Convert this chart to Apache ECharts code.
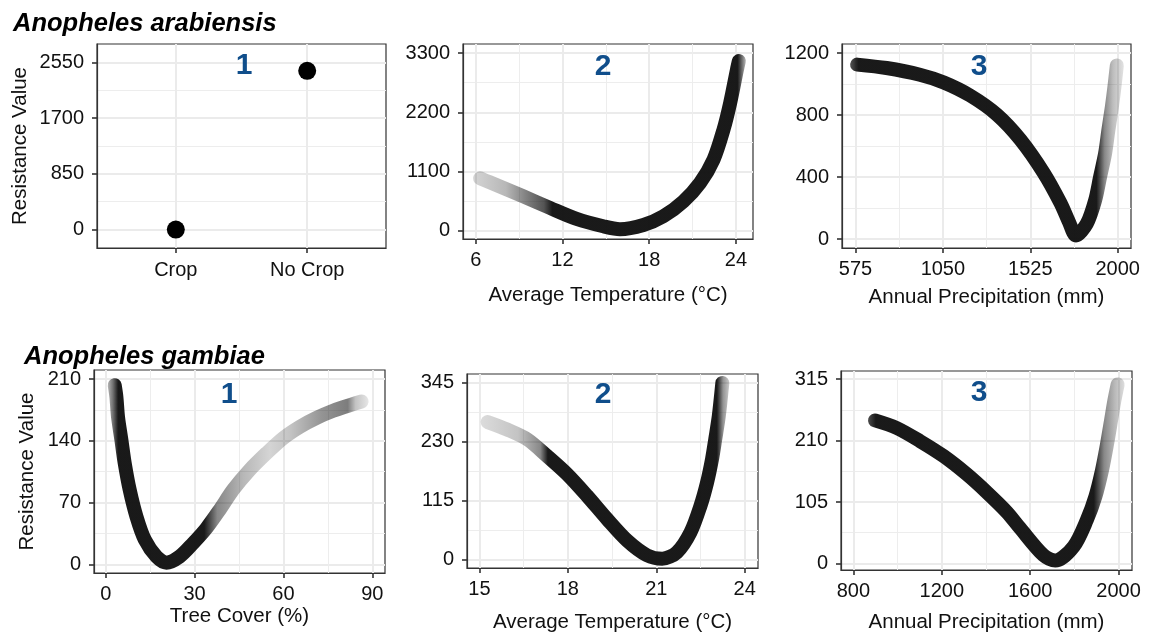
<!DOCTYPE html>
<html>
<head>
<meta charset="utf-8">
<script src="https://cdn.jsdelivr.net/npm/echarts@6/dist/echarts.min.js"></script>
<style>
html, body { margin: 0; padding: 0; background: #fff; }
#chart { width: 1157px; height: 634px; }
</style>
</head>
<body>
<div id="chart"></div>
<script>
// ---- values ----
// Anopheles arabiensis
const cropCats = ['Crop', 'No Crop'];
const cropRes = [0, 2422];

const araTemp = [6.3, 6.97, 9.28, 11.13, 12.98, 14.82, 15.98, 17.6, 18.98, 20.37, 21.52, 22.45, 23.14, 23.6, 24.07, 24.2];
const araTempRes = [975, 901, 642, 427, 222, 86, 32, 110, 271, 549, 890, 1322, 1879, 2374, 2992, 3150];

const araPrec = [584, 744, 925, 1055, 1199, 1344, 1471, 1598, 1689, 1735, 1773, 1832, 1877, 1904, 1931, 1949, 1968, 1982, 1995];
const araPrecRes = [1125, 1103, 1060, 1010, 925, 802, 641, 426, 232, 110, 23, 99, 249, 400, 550, 701, 852, 981, 1120];

// Anopheles gambiae
const gamTree = [3.04, 3.6, 4.16, 5.3, 6.4, 8.1, 10.4, 13.2, 17.1, 20.5, 25, 29.5, 34, 38.5, 43, 48.6, 54.3, 59.9, 65.6, 71.2, 76.8, 80.2, 86.4];
const gamTreeRes = [203, 190, 167, 141, 115, 84.5, 54, 28, 9, 2, 9, 24, 41, 62, 84.5, 107, 126, 143, 156, 166, 174, 178, 184.5];

const gamTemp = [15.28, 15.94, 16.62, 17.3, 17.97, 18.65, 19.33, 20.01, 20.69, 21.2, 21.7, 22.16, 22.5, 22.72, 22.89, 23.0, 23.12, 23.24];
const gamTempRes = [268.5, 254, 235, 202, 167, 124.5, 79, 37, 8, 1.4, 14, 53, 105, 150, 196, 235, 280, 345];

const gamPrec = [898, 996, 1102, 1208, 1313, 1404, 1495, 1555, 1660, 1714, 1797, 1857, 1895, 1925, 1948, 1966, 1981, 1996];
const gamPrecRes = [244.5, 231.5, 209, 183.5, 152.5, 121.5, 87.6, 60, 14, 5, 29, 74.5, 114, 159, 204, 244, 278, 306];

// tick labels
const a1YTicks = [0, 850, 1700, 2550];
const a2XTicks = [6, 12, 18, 24];
const a2YTicks = [0, 1100, 2200, 3300];
const a3XTicks = [575, 1050, 1525, 2000];
const a3YTicks = [0, 400, 800, 1200];
const b1XTicks = [0, 30, 60, 90];
const b1YTicks = [0, 70, 140, 210];
const b2XTicks = [15, 18, 21, 24];
const b2YTicks = [0, 115, 230, 345];
const b3XTicks = [800, 1200, 1600, 2000];
const b3YTicks = [0, 105, 210, 315];

const FONT = '"Liberation Sans", Arial, sans-serif';
const TXT = '#111';

function zip(a, b) { return a.map((v, i) => [v, b[i]]); }

// ggplot-like minor breaks: halfway between majors, inside the limits
function minorOf(ticks, min, max) {
    const step = ticks[1] - ticks[0];
    const out = [];
    for (let v = ticks[0] - step / 2; v <= ticks[ticks.length - 1] + step / 2; v += step) {
        if (v > min && v < max) out.push(v);
    }
    return out;
}

function fade(stops) {
    return new echarts.graphic.LinearGradient(0, 0, 1, 0,
        stops.map(s => ({ offset: s[0], color: 'rgba(18,18,18,' + s[1] + ')' })));
}

const panels = [
    { grid: [97, 44, 289, 204], x: [0.4, 2.6], y: [-281, 2831], xt: [1, 2], yt: a1YTicks,
      cats: cropCats, yName: 'Resistance Value', yGap: 66, xName: '', xGap: 0, noXMinor: true },
    { grid: [463, 44, 290, 195], x: [5.12, 25.18], y: [-150, 3467], xt: a2XTicks, yt: a2YTicks,
      xName: 'Average Temperature (\u00B0C)', xGap: 46 },
    { grid: [842, 44, 289, 204], x: [502, 2072], y: [-58, 1258], xt: a3XTicks, yt: a3YTicks,
      xName: 'Annual Precipitation (mm)', xGap: 39 },
    { grid: [94, 370, 291, 203], x: [-3.95, 94.3], y: [-9.7, 220.2], xt: b1XTicks, yt: b1YTicks,
      yName: 'Resistance Value', yGap: 56, xName: 'Tree Cover (%)', xGap: 33 },
    { grid: [467, 374, 291, 195], x: [14.58, 24.45], y: [-16.7, 362.5], xt: b2XTicks, yt: b2YTicks,
      xName: 'Average Temperature (\u00B0C)', xGap: 44 },
    { grid: [841, 371, 291, 201], x: [744, 2061], y: [-11.3, 329], xt: b3XTicks, yt: b3YTicks,
      xName: 'Annual Precipitation (mm)', xGap: 42 }
];

const grids = [], xAxes = [], yAxes = [], series = [];
const AX = '#333';

// axis used only to paint grid lines (below the data)
function gridAxis(i, pos, range, values, width, color) {
    return {
        type: 'value', gridIndex: i, min: range[0], max: range[1], position: pos, z: 0,
        axisLine: { show: false, onZero: false }, axisLabel: { show: false },
        axisTick: { show: false, customValues: values },
        splitLine: { show: values.length > 0, lineStyle: { color: color, width: width } }
    };
}

panels.forEach((p, i) => {
    grids.push({ left: p.grid[0], top: p.grid[1], width: p.grid[2], height: p.grid[3],
        show: true, borderColor: AX, borderWidth: 1.2, backgroundColor: 'transparent', z: 0 });

    const lineStyle = { color: AX, width: 1.2 };
    const tickStyle = { color: AX, width: 1.6 };
    // main axes: line, ticks, labels, names (above the data)
    xAxes.push({
        type: 'value', gridIndex: i, min: p.x[0], max: p.x[1], position: 'bottom', z: 5,
        axisLine: { show: true, onZero: false, lineStyle: lineStyle },
        axisTick: { show: true, inside: false, length: 5, lineStyle: tickStyle, customValues: p.xt },
        axisLabel: { customValues: p.xt, fontSize: 20, color: TXT, fontFamily: FONT, margin: p.cats ? 12 : 11,
            formatter: p.cats ? (v => p.cats[Math.round(v) - 1]) : (v => String(v)) },
        splitLine: { show: false },
        name: p.xName, nameLocation: 'middle', nameGap: p.xGap,
        nameTextStyle: { fontSize: 20.5, color: TXT, fontFamily: FONT }
    });
    xAxes.push(gridAxis(i, 'bottom', p.x, p.xt, 2, '#ebebeb'));
    xAxes.push(gridAxis(i, 'bottom', p.x, p.noXMinor ? [] : minorOf(p.xt, p.x[0], p.x[1]), 1, '#ededed'));

    yAxes.push({
        type: 'value', gridIndex: i, min: p.y[0], max: p.y[1], position: 'left', z: 5,
        axisLine: { show: true, onZero: false, lineStyle: lineStyle },
        axisTick: { show: true, inside: false, length: 5, lineStyle: tickStyle, customValues: p.yt },
        axisLabel: { customValues: p.yt, fontSize: 20, color: TXT, fontFamily: FONT, margin: 13,
            formatter: v => String(v) },
        splitLine: { show: false },
        name: p.yName || '', nameLocation: 'middle', nameGap: p.yGap || 0, nameRotate: 90,
        nameTextStyle: { fontSize: 20.5, color: TXT, fontFamily: FONT }
    });
    yAxes.push(gridAxis(i, 'left', p.y, p.yt, 2, '#ebebeb'));
    yAxes.push(gridAxis(i, 'left', p.y, minorOf(p.yt, p.y[0], p.y[1]), 1, '#ededed'));
});

function curve(idx, xs, ys, stops) {
    return {
        type: 'line', xAxisIndex: idx * 3, yAxisIndex: idx * 3, data: zip(xs, ys),
        smooth: 0.3, showSymbol: false, z: 3,
        lineStyle: { width: 14, cap: 'round', join: 'round', color: fade(stops) }
    };
}

series.push({
    type: 'scatter', xAxisIndex: 0, yAxisIndex: 0, symbolSize: 18, z: 3,
    itemStyle: { color: '#000', opacity: 1 },
    data: cropRes.map((v, i) => [i + 1, v])
});
series.push(curve(1, araTemp, araTempRes,
    [[0, 0.18], [0.12, 0.3], [0.2, 0.55], [0.26, 0.72], [0.29, 0.97], [0.97, 0.97], [1, 0.3]]));
series.push(curve(2, araPrec, araPrecRes,
    [[0, 0.72], [0.03, 0.97], [0.9, 0.97], [0.93, 0.5], [0.96, 0.28], [1, 0.12]]));
series.push(curve(3, gamTree, gamTreeRes,
    [[0, 0.3], [0.02, 0.6], [0.04, 0.97], [0.37, 0.97], [0.42, 0.5], [0.52, 0.3], [0.62, 0.18],
     [0.7, 0.25], [0.82, 0.45], [0.92, 0.55], [0.95, 0.25], [1, 0.1]]));
series.push(curve(4, gamTemp, gamTempRes,
    [[0, 0.15], [0.15, 0.25], [0.24, 0.5], [0.27, 0.97], [0.95, 0.97], [0.975, 0.45], [1, 0.22]]));
series.push(curve(5, gamPrec, gamPrecRes,
    [[0, 0.75], [0.03, 0.97], [0.88, 0.97], [0.92, 0.5], [0.96, 0.3], [1, 0.14]]));

const numStyle = { fill: '#104E8B', font: 'bold 30px ' + FONT, textAlign: 'center', textVerticalAlign: 'middle' };
const speciesStyle = { fill: '#000', font: 'italic bold 25.5px ' + FONT, textVerticalAlign: 'middle' };
const labels = [
    ['1', 244, 66], ['2', 603, 67], ['3', 979, 67],
    ['1', 229, 395], ['2', 603, 395], ['3', 979, 393]
];

const option = {
    animation: false,
    backgroundColor: '#fff',
    grid: grids,
    xAxis: xAxes,
    yAxis: yAxes,
    series: series,
    graphic: [
        { type: 'text', x: 13, y: 24, style: Object.assign({ text: 'Anopheles arabiensis' }, speciesStyle) },
        { type: 'text', x: 24, y: 357, style: Object.assign({ text: 'Anopheles gambiae' }, speciesStyle) }
    ].concat(labels.map(l => ({ type: 'text', x: l[1], y: l[2], z: 10,
        style: Object.assign({ text: l[0] }, numStyle) })))
};

const myChart = echarts.init(document.getElementById('chart'));
myChart.setOption(option);
</script>
</body>
</html>
